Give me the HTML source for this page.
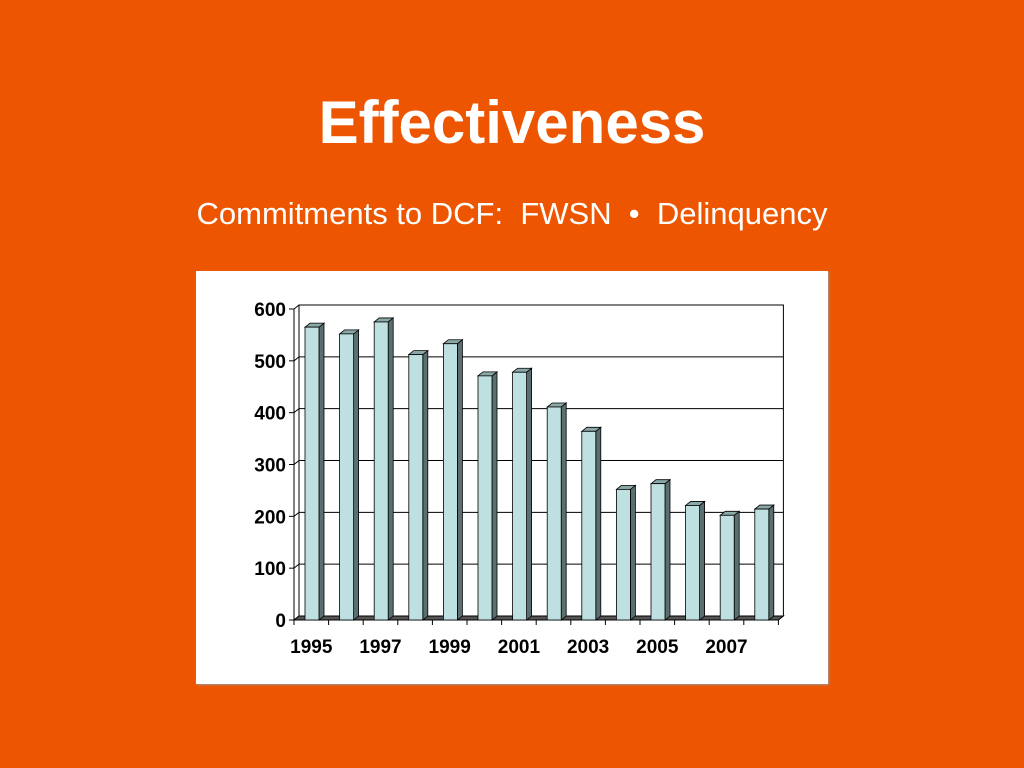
<!DOCTYPE html>
<html><head><meta charset="utf-8"><style>
body{margin:0;width:1024px;height:768px;background:#ee5500;font-family:"Liberation Sans",sans-serif;overflow:hidden;position:relative}
h1{position:absolute;top:88px;left:0;width:1024px;text-align:center;margin:0;color:#fff;font-size:60px;font-weight:bold}
.sub{position:absolute;top:196px;left:0;width:1024px;text-align:center;color:#fff;font-size:31px}
.box{position:absolute;left:196px;top:271px;width:632px;height:413px;background:#fff;box-shadow:1px 1px 2px #999}
</style></head><body>
<h1>Effectiveness</h1>
<div class="sub">Commitments to DCF:&nbsp; FWSN &nbsp;•&nbsp; Delinquency</div>
<div class="box"></div>
<svg id="c" width="1024" height="768" style="position:absolute;left:0;top:0"></svg>
<script>
const categories=["1995","1996","1997","1998","1999","2000","2001","2002","2003","2004","2005","2006","2007","2008"];
const values=[565,552,575,512,533,471,478,411,364,252,263,221,202,214];
const yTicks=[0,100,200,300,400,500,600];
const xLabels=["1995","1997","1999","2001","2003","2005","2007"];
const svg=document.getElementById('c');
const NS='http://www.w3.org/2000/svg';
const x0=294,y0=620,step=34.6,dx=5,dy=-4,bw=14,yMax=600,h=311;
const y=v=>y0-v/yMax*h;
const xc=i=>x0+i*step;
function mk(t,a){const e=document.createElementNS(NS,t);for(const k in a)e.setAttribute(k,a[k]);svg.appendChild(e);return e;}
const right=xc(categories.length);
// back wall frame
let e=mk('rect',{x:x0+dx,y:y(600)+dy,width:right-x0,height:h,fill:'#fff',stroke:'#000','stroke-width':1});

yTicks.forEach(t=>{
 let g=mk('line',{x1:x0+dx,x2:right+dx,y1:y(t)+dy,y2:y(t)+dy,stroke:'#000','stroke-width':1});
 
 let d=mk('line',{x1:x0,x2:x0+dx,y1:y(t),y2:y(t)+dy,stroke:'#000'});
 
 let tk=mk('line',{x1:x0-5,x2:x0,y1:y(t),y2:y(t),stroke:'#000'});
 
 let l=mk('text',{x:x0-8,y:y(t)+7,'text-anchor':'end','font-size':19,'font-weight':'bold','font-family':'Liberation Sans'});
 l.textContent=t;
});
// floor
let fl=mk('polygon',{points:`${x0},${y0} ${right},${y0} ${right+dx},${y0+dy} ${x0+dx},${y0+dy}`,fill:'#555',stroke:'#000'});

let ax=mk('line',{x1:x0,x2:x0,y1:y(600),y2:y0,stroke:'#000'});

let xa=mk('line',{x1:x0,x2:right,y1:y0,y2:y0,stroke:'#000'});

for(let i=0;i<=categories.length;i++){
 let t=mk('line',{x1:xc(i),x2:xc(i),y1:y0,y2:y0+5,stroke:'#000'});
 
}
values.forEach((v,i)=>{
 const bx=xc(i)+11,top=y(v);
 let s=mk('polygon',{points:`${bx+bw},${top} ${bx+bw+dx},${top+dy} ${bx+bw+dx},${y0+dy} ${bx+bw},${y0}`,fill:'#5a7070',stroke:'#000','stroke-width':0.8});
 
 let tp=mk('polygon',{points:`${bx},${top} ${bx+dx},${top+dy} ${bx+bw+dx},${top+dy} ${bx+bw},${top}`,fill:'#8aa8a8',stroke:'#000','stroke-width':0.8});
 
 let r=mk('rect',{x:bx,y:top,width:bw,height:y0-top,fill:'#bfe0e0',stroke:'#000','stroke-width':0.8});
 
});
xLabels.forEach(lb=>{
 const i=categories.indexOf(lb);
 let t=mk('text',{x:xc(i)+step/2,y:y0+33,'text-anchor':'middle','font-size':19,'font-weight':'bold','font-family':'Liberation Sans'});
 t.textContent=lb;
});
</script>
</body></html>
